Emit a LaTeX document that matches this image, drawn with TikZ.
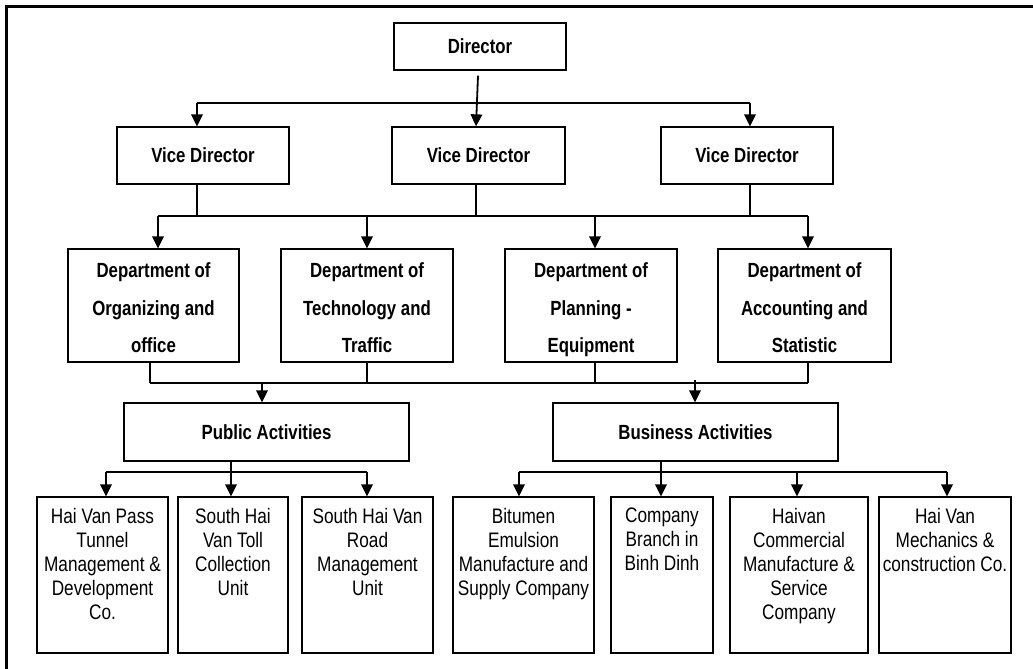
\documentclass[tikz,border=0pt]{standalone}
\usepackage{fontspec}
\setmainfont[FakeStretch=0.82]{Liberation Sans}
\usetikzlibrary{arrows.meta}
\begin{document}
\begin{tikzpicture}[x=1pt,y=-1pt,
  box/.style={draw, line width=1.3pt, inner sep=0pt, font=\fontsize{20.5}{37}\selectfont\bfseries, align=center},
  unit/.style={draw, line width=1.3pt, inner sep=0pt, minimum height=156pt},
  stem/.style={line width=1.2pt},
  bus/.style={line width=1.6pt},
  arr/.style={line width=1.8pt, -{Triangle[length=12pt,width=11.5pt]}},
  frame/.style={line width=2.7pt}
]
\useasboundingbox (0,0) rectangle (1033,669);
\draw[frame] (6.5,669) -- (6.5,6.5) -- (1033,6.5);

\newcommand{\dtext}[2]{\parbox[t][85.6pt][t]{#1}{\fontsize{20.5}{37.5}\selectfont\bfseries\centering #2\par}}
\newcommand{\utext}[2]{\parbox[t][134pt][t]{#1}{\fontsize{21}{24}\selectfont\centering #2\par}}

% boxes
\node[box, minimum width=172pt, minimum height=47pt] (dir) at (480,46.5) {Director};
\node[box, minimum width=172pt, minimum height=57pt] (vd1) at (203,155.5) {Vice Director};
\node[box, minimum width=173pt, minimum height=57pt] (vd2) at (478.5,155.5) {Vice Director};
\node[box, minimum width=172pt, minimum height=57pt] (vd3) at (747,155.5) {Vice Director};

\node[box, minimum width=171pt, minimum height=113pt] (d1) at (153.5,305.5) {\dtext{169pt}{Department of\\Organizing and\\office}};
\node[box, minimum width=172pt, minimum height=113pt] (d2) at (367,305.5) {\dtext{170pt}{Department of\\Technology and\\Traffic}};
\node[box, minimum width=172pt, minimum height=113pt] (d3) at (591,305.5) {\dtext{170pt}{Department of\\Planning -\\Equipment}};
\node[box, minimum width=173pt, minimum height=113pt] (d4) at (804.5,305.5) {\dtext{171pt}{Department of\\Accounting and\\Statistic}};

\node[box, minimum width=285pt, minimum height=58pt] (pa) at (266.5,432) {Public Activities};
\node[box, minimum width=285pt, minimum height=58pt] (ba) at (695.5,432) {Business Activities};

\node[unit, minimum width=131pt] (u1) at (102.5,575) {\utext{129pt}{Hai Van Pass\\Tunnel\\Management \&\\Development\\Co.}};
\node[unit, minimum width=110pt] (u2) at (233,575) {\utext{108pt}{South Hai\\Van Toll\\Collection\\Unit}};
\node[unit, minimum width=131pt] (u3) at (367.5,575) {\utext{129pt}{South Hai Van\\Road\\Management\\Unit}};
\node[unit, minimum width=141pt] (u4) at (523.5,575) {\utext{139pt}{Bitumen\\Emulsion\\Manufacture and\\Supply Company}};
\node[unit, minimum width=102pt] (u5) at (662,575) {\utext{100pt}{Company\\Branch in\\Binh Dinh}};
\node[unit, minimum width=138pt] (u6) at (799,575) {\utext{136pt}{Haivan\\Commercial\\Manufacture \&\\Service\\Company}};
\node[unit, minimum width=132pt] (u7) at (945,575) {\utext{130pt}{Hai Van\\Mechanics \&\\construction Co.}};

% level 1
\coordinate (a1) at (197,103);
\coordinate (a3) at (750,103);
\draw[arr] ([shift={(-2,5)}]dir.south) -- ([xshift=-2.5pt]vd2.north);
\draw[bus] (a1) -- (a3);
\draw[arr] (a1) -- (a1 |- vd1.north);
\draw[arr] (a3) -- (a3 |- vd3.north);

% level 2
\coordinate (b1) at (158,216);
\coordinate (b3) at (595,216);
\coordinate (b4) at (808,216);
\draw[stem] (a1 |- vd1.south) -- (a1 |- b1);
\draw[stem] ([xshift=-2.5pt]vd2.south) -- ([xshift=-2.5pt]vd2.south |- b1);
\draw[stem] (a3 |- vd3.south) -- (a3 |- b1);
\draw[bus] (b1) -- (b4);
\draw[arr] (b1) -- (b1 |- d1.north);
\draw[arr] (d2.north |- b1) -- (d2.north);
\draw[arr] (b3) -- (b3 |- d3.north);
\draw[arr] (b4) -- (b4 |- d4.north);

% level 3
\coordinate (c1) at (150,383);
\coordinate (c3) at (595,383);
\coordinate (c4) at (808,383);
\draw[stem] (c1 |- d1.south) -- (c1);
\draw[stem] (d2.south) -- (d2.south |- c1);
\draw[stem] (c3 |- d3.south) -- (c3);
\draw[stem] (c4 |- d4.south) -- (c4);
\draw[bus] (c1) -- (c4);
\coordinate (cp) at (262,383);
\coordinate (cb) at (695,380);
\draw[arr] (cp) -- (cp |- pa.north);
\draw[arr] (cb) -- (cb |- ba.north);

% level 4 public
\coordinate (p0) at (231,472);
\coordinate (p1) at (106,472);
\coordinate (p3) at (367,472);
\draw[bus] (p0 |- pa.south) -- (p0);
\draw[bus] (p1) -- (p3);
\draw[arr] (p1) -- (p1 |- u1.north);
\draw[arr] (p0) -- (p0 |- u2.north);
\draw[arr] (p3) -- (p3 |- u3.north);

% level 4 business
\coordinate (q0) at (661,472);
\coordinate (q1) at (519,472);
\coordinate (q3) at (797,472);
\coordinate (q4) at (947,472);
\draw[bus] (q0 |- ba.south) -- (q0);
\draw[bus] (q1) -- (q4);
\draw[arr] (q1) -- (q1 |- u4.north);
\draw[arr] (q0) -- (q0 |- u5.north);
\draw[arr] (q3) -- (q3 |- u6.north);
\draw[arr] (q4) -- (q4 |- u7.north);
\end{tikzpicture}
\end{document}
